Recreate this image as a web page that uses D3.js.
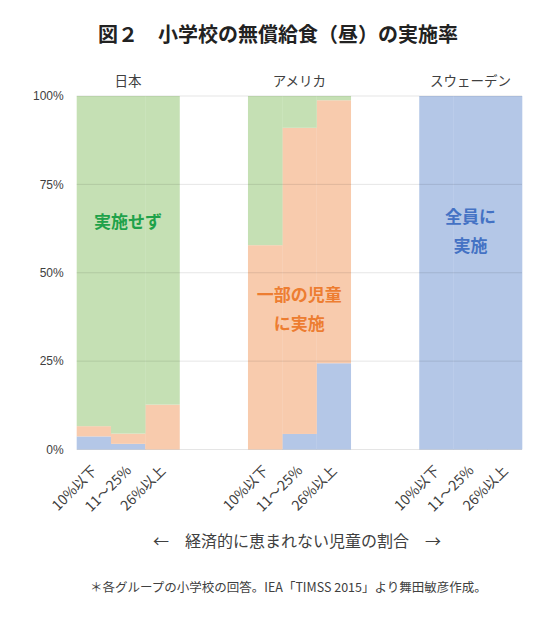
<!DOCTYPE html>
<html><head><meta charset="utf-8">
<script src="https://cdn.jsdelivr.net/npm/d3@7"></script>
<style>
body{margin:0;background:#fff;}
text{font-family:"Noto Sans CJK JP","Noto Sans",sans-serif;}
</style></head>
<body>
<svg id="c" width="550" height="629"></svg>
<script>
const countries = ["日本","アメリカ","スウェーデン"];
const levels = ["10%以下","11～25%","26%以上"];
// share of schools (%) for each country × level, in order 日本(3), アメリカ(3), スウェーデン(3)
const allStudents = [3.7, 1.6, 0, 0, 4.4, 24.4, 100, 100, 100];   // 全員に実施
const someStudents = [2.9, 2.9, 12.7, 57.8, 86.6, 74.4, 0, 0, 0]; // 一部の児童に実施
const notProvided = [93.4, 95.5, 87.3, 42.2, 9.0, 1.2, 0, 0, 0];  // 実施せず
const yTicks = [0, 25, 50, 75, 100];

(function(){
const svg = d3.select("#c");
const mLeft = 76.7, mRight = 522, mTop = 96, mBottom = 449.5;

// slots: 3 bars, 2 gaps, 3 bars, 2 gaps, 3 bars
const slots = [];
countries.forEach((c, ci) => {
  levels.forEach(l => slots.push(c + "|" + l));
  if (ci < countries.length - 1) { slots.push("gap" + ci + "a"); slots.push("gap" + ci + "b"); }
});
const x = d3.scaleBand().domain(slots).range([mLeft, mRight]).padding(0);
const y = d3.scaleLinear().domain([0, 100]).range([mBottom, mTop]);

const rows = [];
countries.forEach((c, ci) => levels.forEach((l, li) => {
  const i = ci * 3 + li;
  rows.push({key: c + "|" + l, all: allStudents[i], some: someStudents[i], none: notProvided[i]});
}));
const keys = ["all", "some", "none"];
const colors = {all: "#b4c7e7", some: "#f8cbad", none: "#c5e0b4"};
const stacked = d3.stack().keys(keys)(rows);

svg.append("g").selectAll("g").data(stacked).join("g")
  .attr("fill", d => colors[d.key])
  .selectAll("rect").data(d => d).join("rect")
  .attr("x", d => x(d.data.key))
  .attr("width", x.bandwidth() + 0.3)
  .attr("y", d => y(d[1]))
  .attr("height", d => Math.max(0, y(d[0]) - y(d[1])));

// gridlines
const grid = svg.append("g");
grid.selectAll("line").data(yTicks).join("line")
  .attr("x1", mLeft).attr("x2", mRight)
  .attr("y1", d => y(d)).attr("y2", d => y(d))
  .attr("stroke", "#000").attr("stroke-opacity", 0.1).attr("stroke-width", 1);

// y axis labels
const yAxis = d3.axisLeft(y).tickValues(yTicks).tickFormat(d => d + "%").tickSize(0).tickPadding(0);
const ya = svg.append("g").attr("transform", `translate(${mLeft - 13},0)`).call(yAxis);
ya.select(".domain").remove();
ya.selectAll("text").attr("fill", "#404040").style("font-size", "12px")
  .style("font-family", '"Liberation Sans","Noto Sans",sans-serif');

// country labels
countries.forEach(c => {
  const cx = x(c + "|" + levels[1]) + x.bandwidth() / 2;
  svg.append("text").attr("x", cx).attr("y", 80).attr("text-anchor", "middle")
    .attr("dominant-baseline", "central")
    .attr("fill", "#404040").style("font-size", "13.5px").text(c);
});

// x tick labels rotated
const xAxis = d3.axisBottom(x).tickValues(slots.filter(s => !s.startsWith("gap")))
  .tickFormat(d => d.split("|")[1]).tickSize(0).tickPadding(0);
const xa = svg.append("g").attr("transform", `translate(0,${mBottom})`).call(xAxis);
xa.select(".domain").remove();
xa.selectAll("text")
  .attr("text-anchor", "end")
  .attr("dy", null)
  .attr("transform", "translate(4,22) rotate(-45)")
  .attr("fill", "#404040").style("font-size", "14px");

// in-plot labels
function label(lines, cx, yvals, color) {
  lines.forEach((t, i) => {
    svg.append("text").attr("x", cx).attr("y", y(yvals[i]))
      .attr("text-anchor", "middle").attr("dominant-baseline", "central")
      .attr("fill", color).style("font-size", "17px").style("font-weight", "bold").text(t);
  });
}
const center = c => x(c + "|" + levels[1]) + x.bandwidth() / 2;
label(["実施せず"], center("日本"), [64.9], "#1fa24a");
label(["一部の児童", "に実施"], center("アメリカ"), [44.1, 36.0], "#ed7d31");
label(["全員に", "実施"], center("スウェーデン"), [66.2, 57.9], "#4472c4");

// title
svg.append("text").attr("x", 278).attr("y", 33).attr("text-anchor", "middle")
  .attr("dominant-baseline", "central")
  .attr("fill", "#222").style("font-size", "20px").style("font-weight", "bold")
  .text("図２　小学校の無償給食（昼）の実施率");

// axis title
svg.append("text").attr("x", 297).attr("y", 540).attr("text-anchor", "middle")
  .attr("dominant-baseline", "central")
  .attr("fill", "#404040").style("font-size", "16px")
  .text("←　経済的に恵まれない児童の割合　→");

// footnote
svg.append("text").attr("x", 90).attr("y", 586).attr("text-anchor", "start")
  .attr("dominant-baseline", "central")
  .attr("fill", "#404040").style("font-size", "12.5px")
  .text("＊各グループの小学校の回答。IEA「TIMSS 2015」より舞田敏彦作成。");
})();
</script>
</body></html>
